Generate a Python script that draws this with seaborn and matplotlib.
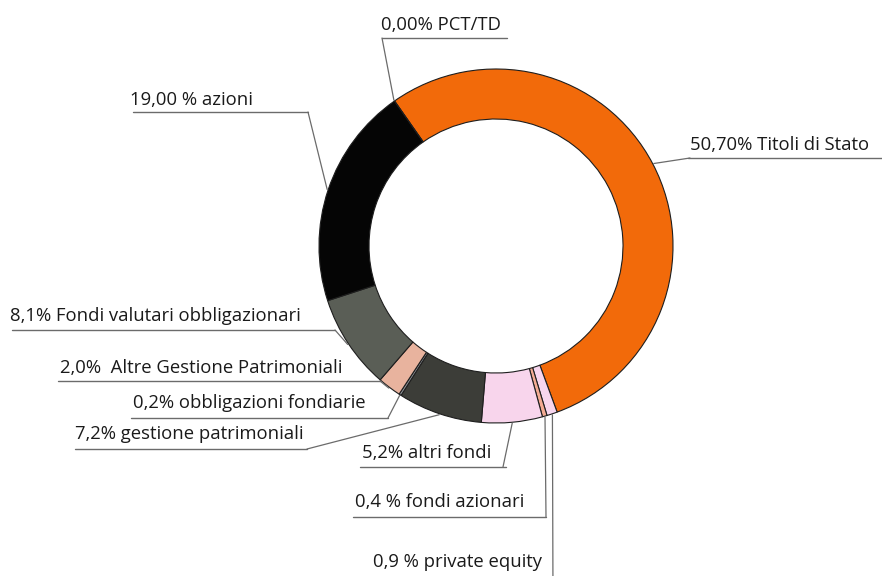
import numpy as np
import matplotlib
matplotlib.use("Agg")
import matplotlib.pyplot as plt
import seaborn as sns

# slices, clockwise from the top-left boundary
labels = ["50,70% Titoli di Stato", "0,9 % private equity", "0,4 % fondi azionari",
          "5,2% altri fondi", "7,2% gestione patrimoniali", "0,2% obbligazioni fondiarie",
          "2,0%  Altre Gestione Patrimoniali", "8,1% Fondi valutari obbligazionari",
          "19,00 % azioni", "0,00% PCT/TD"]
values = [50.7, 0.9, 0.4, 5.2, 7.2, 0.2, 2.0, 8.1, 19.0, 0.0]
colors = ["#f26a0a", "#f7d6ee", "#f3ab93", "#f8d5ec", "#3c3d38", "#8d9196",
          "#e8b39e", "#5a5e56", "#050505", "#ffffff"]

# label layout (pixels from top-left)
text_x = [690, 373, 355, 362, 75, 133, 60, 10, 130, 381]
text_y = [145, 562, 502, 453, 434, 403, 368, 316, 100, 25]
line_y = [158, 600, 517, 467, 449, 418, 381, 330, 112, 38]
line_x0 = [688, 370, 353, 360, 75, 131, 58, 12, 133, 382]
line_x1 = [882, 553, 546, 506, 307, 388, 380, 335, 308, 507]
elbow_x = [690, 553, 546, 503, 307, 388, 380, 335, 308, 382]

W, H = 882, 576
sns.set_style("white")
plt.rcParams['font.family'] = ['Open Sans', 'DejaVu Sans']

fig = plt.figure(figsize=(W / 100, H / 100), dpi=100)
ax = fig.add_axes([0, 0, 1, 1])

cx, cy, R = 496, H - 246, 177
wedges, _ = ax.pie(values, colors=colors, startangle=125, counterclock=False,
                   radius=R, center=(cx, cy),
                   wedgeprops=dict(width=50, edgecolor="#1e1e1e", linewidth=0.8))

ax.set_xlim(0, W)
ax.set_ylim(0, H)
ax.set_aspect("equal")
ax.axis("off")

for i, w in enumerate(wedges):
    if values[i] == 0:
        ang = w.theta2
    else:
        ang = (w.theta1 + w.theta2) / 2
    ax_ = cx + (R + 1) * np.cos(np.radians(ang))
    ay_ = cy + (R + 1) * np.sin(np.radians(ang))
    ly = H - line_y[i]
    ax.plot([line_x0[i], line_x1[i]], [ly, ly], color="#6b6b6b", lw=1.0)
    ax.plot([elbow_x[i], ax_], [ly, ay_], color="#6b6b6b", lw=0.9)
    ax.text(text_x[i], H - text_y[i], labels[i], fontsize=13.3, color="#1a1a1a",
            fontweight="medium", ha="left", va="center")

fig.savefig("out.png", dpi=100)
